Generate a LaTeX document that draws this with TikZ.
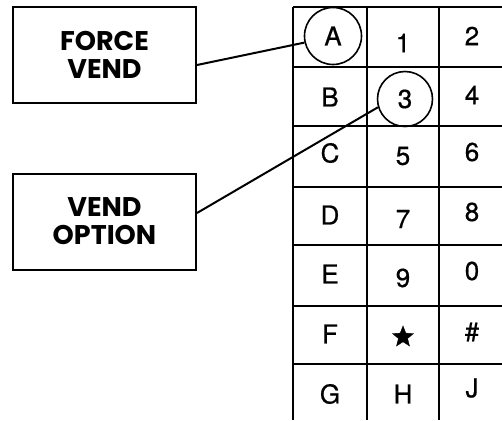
\documentclass[tikz,border=0pt]{standalone}
\usepackage{fontspec}
\usetikzlibrary{shapes.geometric}
\newfontfamily\lblfont{Poppins}
\newfontfamily\cellfont[FakeBold=0.6]{TeX Gyre Heros}
\begin{document}
\begin{tikzpicture}[x=1pt,y=-1pt,
  gridline/.style={line width=2pt},
  labelbox/.style={draw,line width=2pt,minimum width=183pt,minimum height=96pt,inner sep=0pt,
    align=center,font=\lblfont\bfseries\fontsize{27}{28}\selectfont},
  keytxt/.style={font=\cellfont\fontsize{26}{26}\selectfont,inner sep=0pt},
  ring/.style={draw,circle,line width=1.6pt,inner sep=0pt,font=\cellfont\fontsize{26}{26}\selectfont},
  lead/.style={line width=2pt}]
\useasboundingbox (0,0) rectangle (502,420);
\fill[white] (0,0) rectangle (502,420);
% grid
\foreach \yy in {7,67,126,187,245,306,364}
  \draw[gridline] (293,\yy) -- (502,\yy);
\foreach \xx in {293,367,439}
  \draw[gridline] (\xx,7) -- (\xx,420);
% column 1
\node[ring,minimum size=57pt] (ca) at (333,36) {A};
\node[keytxt] (kB) at (330,97) {B};
\node[keytxt] (kC) at (330,153) {C};
\node[keytxt] (kD) at (330,215) {D};
\node[keytxt] (kE) at (330,274) {E};
\node[keytxt] (kF) at (330,334) {F};
\node[keytxt] (kG) at (330,394) {G};
% column 2
\node[keytxt] (k1) at (403,43) {1};
\node[ring,minimum size=55pt] (c3) at (405,99) {3};
\node[keytxt] (k5) at (403,156) {5};
\node[keytxt] (k7) at (403,219) {7};
\node[keytxt] (k9) at (403,278) {9};
\node[draw,fill,star,star points=5,star point ratio=2.3,minimum size=22pt,inner sep=0pt] (kstar) at (403,337) {};
\node[keytxt] (kH) at (403,394) {H};
% column 3
\node[keytxt] (k2) at (472,36) {2};
\node[keytxt] (k4) at (472,95) {4};
\node[keytxt] (k6) at (472,152) {6};
\node[keytxt] (k8) at (472,212) {8};
\node[keytxt] (k0) at (472,271) {0};
\node[keytxt] (khash) at (472,332) {\#};
\node[keytxt] (kJ) at (472,388) {J};
% label boxes
\node[labelbox] (fv) at (104.5,55) {FORCE\\VEND};
\node[labelbox] (vo) at (104.5,221.5) {VEND\\OPTION};
% leaders
\draw[lead] ([yshift=-10pt]fv.east) -- (ca.193);
\draw[lead] ([yshift=8.5pt]vo.east) -- (c3.197);
\end{tikzpicture}
\end{document}
